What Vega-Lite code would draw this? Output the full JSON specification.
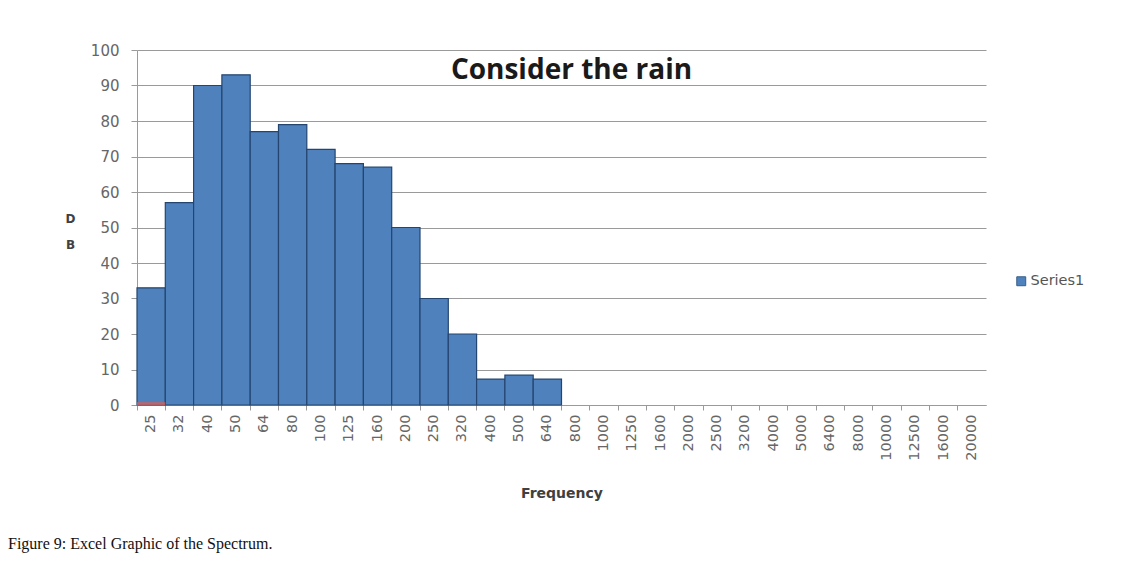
{
  "$schema": "https://vega.github.io/schema/vega-lite/v6.json",
  "padding": {"left": 8, "top": 43, "right": 5, "bottom": 5},
  "background": "white",
  "title": {
    "text": "Figure 9: Excel Graphic of the Spectrum.",
    "orient": "bottom",
    "anchor": "start",
    "frame": "bounds",
    "font": "Liberation Serif",
    "fontSize": 16,
    "fontWeight": "normal",
    "color": "#111111",
    "offset": 36,
    "dx": -57
  },
  "vconcat": [
    {
      "width": 849,
      "height": 355,
      "data": {
        "values": [
          {"freq": "25", "db": 33, "s2": 0.8},
          {"freq": "32", "db": 57},
          {"freq": "40", "db": 90},
          {"freq": "50", "db": 93},
          {"freq": "64", "db": 77},
          {"freq": "80", "db": 79},
          {"freq": "100", "db": 72},
          {"freq": "125", "db": 68},
          {"freq": "160", "db": 67},
          {"freq": "200", "db": 50},
          {"freq": "250", "db": 30},
          {"freq": "320", "db": 20},
          {"freq": "400", "db": 7.3},
          {"freq": "500", "db": 8.4},
          {"freq": "640", "db": 7.3},
          {"freq": "800", "db": 0},
          {"freq": "1000", "db": 0},
          {"freq": "1250", "db": 0},
          {"freq": "1600", "db": 0},
          {"freq": "2000", "db": 0},
          {"freq": "2500", "db": 0},
          {"freq": "3200", "db": 0},
          {"freq": "4000", "db": 0},
          {"freq": "5000", "db": 0},
          {"freq": "6400", "db": 0},
          {"freq": "8000", "db": 0},
          {"freq": "10000", "db": 0},
          {"freq": "12500", "db": 0},
          {"freq": "16000", "db": 0},
          {"freq": "20000", "db": 0}
        ]
      },
      "title": {
        "text": "Consider the rain",
        "font": "Open Sans",
        "fontSize": 28,
        "fontWeight": "bold",
        "color": "#1a1a1a",
        "anchor": "middle",
        "frame": "group",
        "baseline": "alphabetic",
        "offset": -64,
        "dx": 10
      },
      "encoding": {
        "x": {
          "field": "freq",
          "type": "nominal",
          "sort": null,
          "scale": {
            "domain": ["25","32","40","50","64","80","100","125","160","200","250","320","400","500","640","800","1000","1250","1600","2000","2500","3200","4000","5000","6400","8000","10000","12500","16000","20000"],
            "paddingInner": 0,
            "paddingOuter": 0
          },
          "axis": {
            "title": "Frequency",
            "titleFont": "DejaVu Sans",
            "titleFontSize": 14,
            "titleFontWeight": "bold",
            "titleColor": "#404040",
            "titlePadding": 26,
            "labelAngle": 270,
            "labelAlign": "right",
            "labelBaseline": "middle",
            "labelFont": "DejaVu Sans",
            "labelFontSize": 14.5,
            "labelColor": "#666666",
            "labelPadding": 4,
            "bandPosition": 0,
            "tickSize": 5,
            "tickColor": "#9a9a9a",
            "domainColor": "#9a9a9a",
            "grid": false
          }
        },
        "y": {
          "field": "db",
          "type": "quantitative",
          "scale": {"domain": [0, 100], "nice": false},
          "axis": {
            "title": ["D", "B"],
            "titleAngle": 0,
            "titleFont": "DejaVu Sans",
            "titleFontSize": 12,
            "titleFontWeight": "bold",
            "titleColor": "#404040",
            "titleLineHeight": 26,
            "titleAlign": "center",
            "titleBaseline": "middle",
            "titleX": -67,
            "titleY": 168,
            "values": [0,10,20,30,40,50,60,70,80,90,100],
            "labelFont": "DejaVu Sans",
            "labelFontSize": 15,
            "labelColor": "#666666",
            "labelPadding": 12,
            "tickSize": 6,
            "tickColor": "#9a9a9a",
            "domain": true,
            "domainColor": "#9a9a9a",
            "grid": true,
            "gridColor": "#9a9a9a",
            "gridWidth": 1.2
          }
        }
      },
      "layer": [
        {
          "mark": {"type": "bar", "strokeWidth": 1.2},
          "encoding": {
            "color": {
              "datum": "Series1",
              "type": "nominal",
              "scale": {"range": ["#4f81bd"]},
              "legend": {
                "title": null,
                "orient": "none",
                "legendX": 877,
                "legendY": 224,
                "symbolType": "square",
                "symbolSize": 80,
                "symbolStrokeColor": "#385d8a",
                "symbolStrokeWidth": 1,
                "labelFont": "DejaVu Sans",
                "labelFontSize": 14.5,
                "labelColor": "#555555",
                "labelOffset": 2
              }
            },
            "stroke": {
              "condition": {"test": "datum.db > 0", "value": "#24456f"},
              "value": null
            }
          }
        },
        {
          "transform": [{"filter": "isValid(datum.s2)"}],
          "mark": {"type": "bar", "color": "#d0605d", "opacity": 0.8},
          "encoding": {
            "y": {"field": "s2", "type": "quantitative"}
          }
        }
      ]
    }
  ],
  "config": {
    "view": {"stroke": null}
  }
}
